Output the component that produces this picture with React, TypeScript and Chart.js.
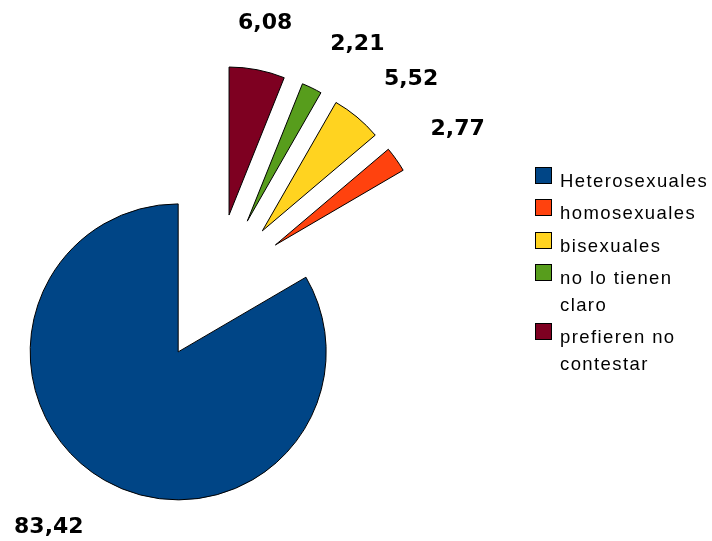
import React, { useEffect, useRef } from "react";
import { Chart, registerables } from "chart.js";

Chart.register(...registerables);

// ---- data (legend order) ----
const categories = [
  "Heterosexuales",
  "homosexuales",
  "bisexuales",
  "no lo tienen claro",
  "prefieren no contestar",
];
const percentages = [83.42, 2.77, 5.52, 2.21, 6.08];
const sliceColors = ["#004586", "#ff420e", "#ffd320", "#579d1c", "#7e0021"];

// ---- geometry / style constants ----
const PIE_RADIUS = 148;
const EXPLODE_RATIO = 0.5; // every slice pulled out by half the radius
const LABEL_GAP = 42; // distance of value label beyond outer radius
const LABEL_CAP = 16; // digit height of label font

const formatValue = (v: number) => v.toFixed(2).replace(".", ",");

const explodePlugin = {
  id: "explodeSlices",
  afterDatasetsUpdate(chart: any) {
    const meta = chart.getDatasetMeta(0);
    meta.data.forEach((el: any) => {
      const mid = (el.startAngle + el.endAngle) / 2;
      const d = el.outerRadius * EXPLODE_RATIO;
      el.x += Math.cos(mid) * d;
      el.y += Math.sin(mid) * d;
    });
  },
};

const valueLabelPlugin = {
  id: "valueLabels",
  afterDatasetsDraw(chart: any) {
    const meta = chart.getDatasetMeta(0);
    const values = chart.data.datasets[0].data as number[];
    const ctx = chart.ctx as CanvasRenderingContext2D;
    ctx.save();
    ctx.font = 'bold 22px "DejaVu Sans"';
    ctx.fillStyle = "#000";
    ctx.textBaseline = "alphabetic";
    meta.data.forEach((el: any, i: number) => {
      const mid = (el.startAngle + el.endAngle) / 2;
      const dx = Math.cos(mid);
      const dy = Math.sin(mid);
      const dist = el.outerRadius + LABEL_GAP;
      const ax = el.x + dx * dist;
      const ay = el.y + dy * dist;
      ctx.textAlign = Math.abs(dx) < 0.3 ? "center" : dx > 0 ? "left" : "right";
      const y = dy < 0 ? ay : ay + LABEL_CAP;
      ctx.fillText(formatValue(values[i]), ax, y);
    });
    ctx.restore();
  },
};

export default function App() {
  const ref = useRef<HTMLCanvasElement>(null);

  useEffect(() => {
    if (!ref.current) return;
    // slices run counter-clockwise in the original, so feed them reversed
    const order = categories.map((_, i) => i).reverse();
    const chart = new Chart(ref.current, {
      type: "pie",
      data: {
        labels: order.map((i) => categories[i]),
        datasets: [
          {
            data: order.map((i) => percentages[i]),
            backgroundColor: order.map((i) => sliceColors[i]),
            borderColor: "#000",
            borderWidth: 1,
            radius: PIE_RADIUS,
          } as any,
        ],
      },
      options: {
        responsive: false,
        maintainAspectRatio: false,
        animation: false,
        events: [],
        layout: { padding: { left: 0, top: 34.4, right: 282, bottom: 0 } },
        plugins: {
          legend: { display: false },
          tooltip: { enabled: false },
        },
      },
      plugins: [explodePlugin, valueLabelPlugin],
    });
    return () => chart.destroy();
  }, []);

  return (
    <div
      style={{
        position: "absolute",
        left: 0,
        top: 0,
        width: 712,
        height: 541,
        overflow: "hidden",
        background: "#fff",
      }}
    >
      <canvas
        ref={ref}
        width={712}
        height={541}
        style={{ position: "absolute", left: 0, top: 0, width: 712, height: 541 }}
      />
      <div
        style={{
          position: "absolute",
          left: 535,
          top: 167,
          width: 177,
          fontFamily: '"Liberation Sans", Arial, sans-serif',
          fontSize: 18.5,
          lineHeight: "27px",
          letterSpacing: "1.4px",
          color: "#000",
        }}
      >
        {categories.map((c, i) => (
          <div
            key={c}
            style={{ display: "flex", alignItems: "flex-start", marginBottom: 5.3 }}
          >
            <div
              style={{
                width: 17,
                height: 17,
                boxSizing: "border-box",
                border: "1px solid #000",
                background: sliceColors[i],
                flex: "0 0 auto",
              }}
            />
            <div style={{ marginLeft: 8, width: 150 }}>{c}</div>
          </div>
        ))}
      </div>
    </div>
  );
}
